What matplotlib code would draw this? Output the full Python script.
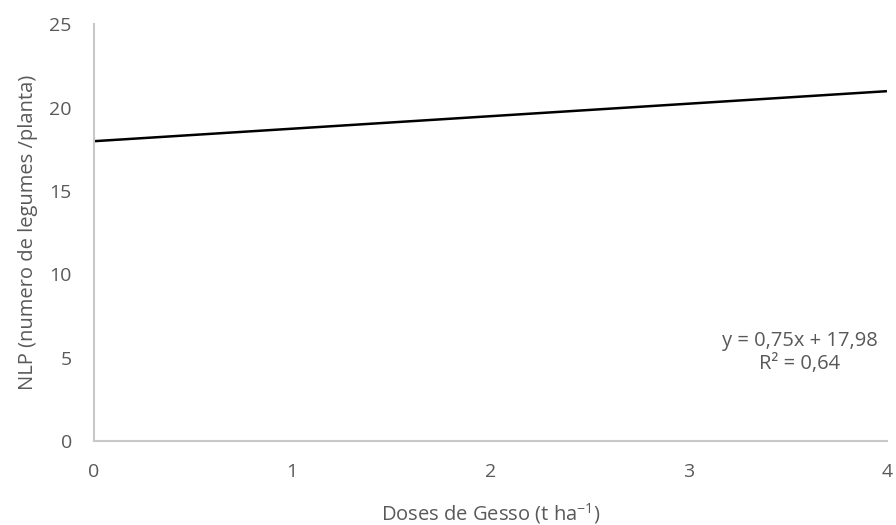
import matplotlib
matplotlib.use("Agg")
import matplotlib.pyplot as plt

plt.rcParams['font.family'] = ['Open Sans', 'DejaVu Sans']
plt.rcParams['mathtext.fontset'] = 'custom'
plt.rcParams['mathtext.rm'] = 'Open Sans'
plt.rcParams['mathtext.it'] = 'Open Sans'
plt.rcParams['mathtext.default'] = 'regular'

x_vals = [0, 4]
slope = 0.75
intercept = 17.98
y_vals = [intercept + slope * x for x in x_vals]
x_ticks = [0, 1, 2, 3, 4]
y_ticks = [0, 5, 10, 15, 20, 25]
equation = "y = 0,75x + 17,98\nR² = 0,64"

fig = plt.figure(figsize=(8.96, 5.25), dpi=100)
ax = fig.add_axes([0.1049, 0.16, 0.885, 0.794])
ax.plot(x_vals, y_vals, color='black', lw=1.8, solid_capstyle='butt')
ax.set_xlim(0, 4)
ax.set_ylim(0, 25)
ax.set_xticks(x_ticks)
ax.set_yticks(y_ticks)
for s in ['top', 'right']:
    ax.spines[s].set_visible(False)
for s in ['left', 'bottom']:
    ax.spines[s].set_color('#C8C8C8')
    ax.spines[s].set_linewidth(1.5)
ax.tick_params(length=0, labelsize=14, colors='#595959')
ax.tick_params(axis='x', pad=16)
ax.tick_params(axis='y', pad=16)
ax.set_xlabel("Doses de Gesso (t ha$^{-1}$)", fontsize=14.5, color='#595959', labelpad=14)
ax.set_ylabel("NLP (numero de legumes /planta)", fontsize=14.5, color='#595959', labelpad=8)
ax.text(3.56, 5.3, equation, ha='center', va='center', multialignment='center',
        fontsize=14.5, color='#595959', linespacing=1.2)
fig.savefig("out.png", dpi=100)
